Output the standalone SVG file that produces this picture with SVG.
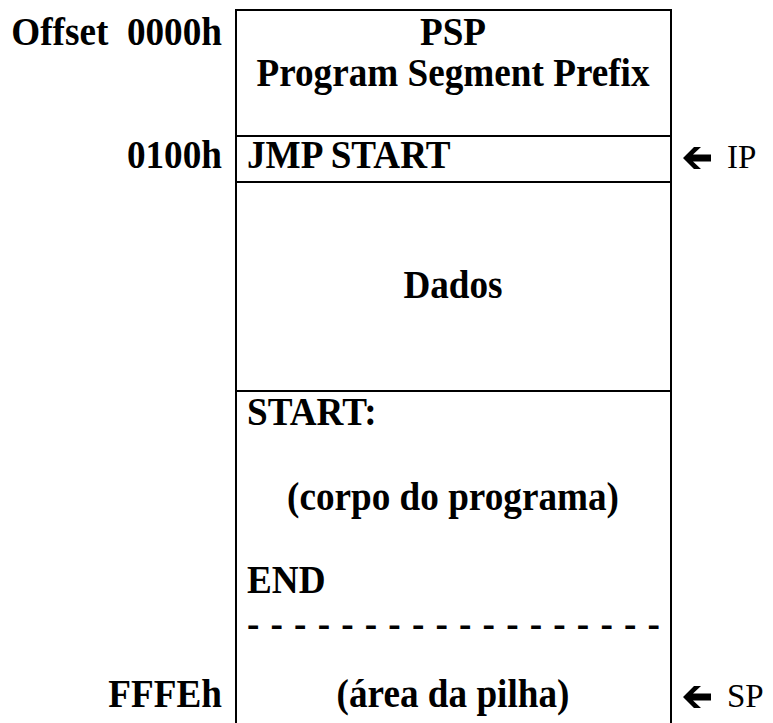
<svg xmlns="http://www.w3.org/2000/svg" width="773" height="723" viewBox="0 0 773 723">
<style>
.t{font-family:"Liberation Serif","Times New Roman",serif;font-weight:bold;font-size:40px;fill:#000}
.r{font-family:"Liberation Serif","Times New Roman",serif;font-size:33px;fill:#000}
.ln{stroke:#000;stroke-width:2;fill:none}
.ar{fill:#000}
</style>
<defs>
<path id="arrow" class="ar" d="M0,0 L11,-11 L18,-11 L10,-3.5 L28,-3.5 L28,3.5 L10,3.5 L18,11 L11,11 Z"/>
</defs>
<rect width="773" height="723" fill="#fff"/>
<g id="connectors">
<path class="ln" d="M236,10 H671 M236,9 V723 M671,9 V723 M236,136 H671 M236,182 H671 M236,391 H671"/>
</g>
<g transform="scale(0.93,1)">
<g id="labels">
<text class="t" x="238.7" y="45" text-anchor="end" style="white-space:pre">Offset  0000h</text>
<text class="t" x="238.7" y="168" text-anchor="end">0100h</text>
<text class="t" x="238.7" y="707" text-anchor="end">FFFEh</text>
</g>
<g id="psp"><text class="t" x="487.1" y="45" text-anchor="middle">PSP</text><text class="t" x="487.1" y="86" text-anchor="middle">Program Segment Prefix</text></g>
<g id="jmp"><text class="t" x="265.6" y="168">JMP START</text></g>
<g id="dados"><text class="t" x="487.1" y="298" text-anchor="middle">Dados</text></g>
<g id="corpo">
<text class="t" x="265.6" y="425">START:</text>
<text class="t" x="487.1" y="510" text-anchor="middle">(corpo do programa)</text>
<text class="t" x="265.6" y="593">END</text>
<text class="t" x="265.6" y="637" textLength="444" lengthAdjust="spacing">- - - - - - - - - - - - - - - - - -</text>
<text class="t" x="487.1" y="707" text-anchor="middle">(área da pilha)</text>
</g>
</g>
<g id="ip"><use href="#arrow" x="683" y="158"/><text class="r" x="727" y="168">IP</text></g>
<g id="sp"><use href="#arrow" x="683" y="697"/><text class="r" x="727" y="707">SP</text></g>
</svg>
